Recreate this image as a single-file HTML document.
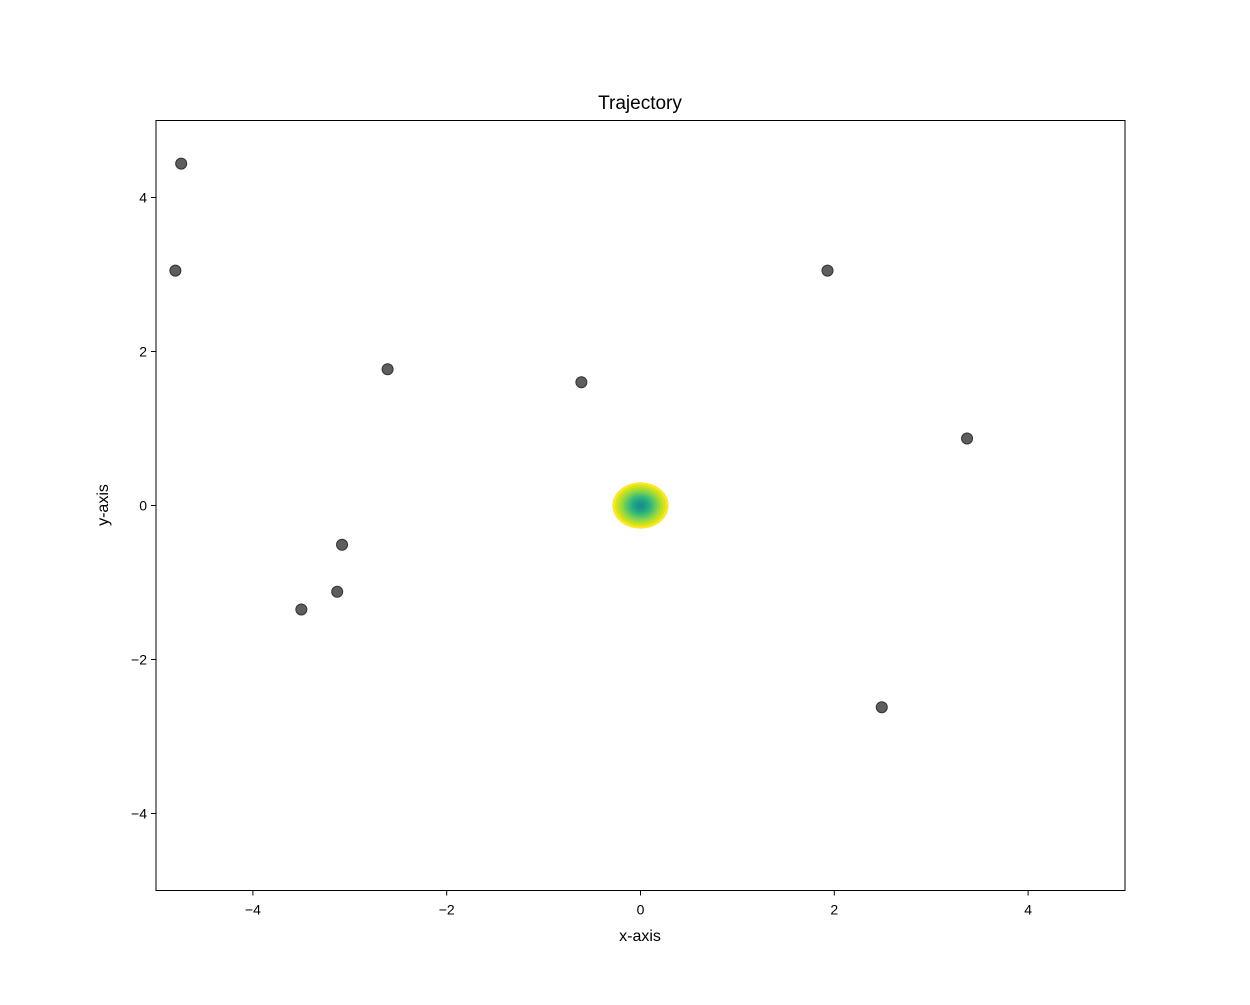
<!DOCTYPE html>
<html><head><meta charset="utf-8"><style>
body{margin:0;background:#fff;}
svg text{font-family:"Liberation Sans","DejaVu Sans",sans-serif;}
</style></head><body>
<svg id="c" width="1250" height="1000">
<text x="640" y="109" text-anchor="middle" font-size="19">Trajectory</text>
<g id="blob"></g>
<g id="pts"></g>
<rect x="156" y="120.5" width="969" height="770" fill="none" stroke="#000" stroke-width="1"/>
<g id="ax"></g>
<text x="640" y="941" text-anchor="middle" font-size="16">x-axis</text>
<text x="108" y="505" text-anchor="middle" font-size="16" transform="rotate(-90 108 505)">y-axis</text>
</svg>
<script>
const xs=[-4.74,-4.80,-2.61,-0.61,1.93,3.37,-3.08,-3.13,-3.50,2.49];
const ys=[4.44,3.05,1.77,1.60,3.05,0.87,-0.51,-1.12,-1.35,-2.62];
const xTicks=[-4,-2,0,2,4];
const yTicks=[-4,-2,0,2,4];
const xTickLabels=["−4","−2","0","2","4"];
const yTickLabels=["−4","−2","0","2","4"];
const blobColors=["#fde725","#d8e219","#b5de2b","#8fd744","#6ccd5a","#4ac16d","#2fb47c","#21a685","#1f988b","#228a8d"];
const blobRx=0.29, blobRy=0.30;
const X0=156,X1=1125,Y0=120.5,Y1=890.5;
const sx=v=>X0+(v+5)/10*(X1-X0);
const sy=v=>Y1-(v+5)/10*(Y1-Y0);
const NS="http://www.w3.org/2000/svg";
function mk(t,a,p){const e=document.createElementNS(NS,t);for(const k in a)e.setAttribute(k,a[k]);p.appendChild(e);return e;}
const blob=document.getElementById('blob');
blobColors.forEach((c,i)=>{const f=1-i/blobColors.length;
const e=mk('ellipse',{cx:sx(0),cy:sy(0),rx:(blobRx*f)*(X1-X0)/10,ry:(blobRy*f)*(Y1-Y0)/10,fill:c},blob);

});
const pts=document.getElementById('pts');
xs.forEach((x,i)=>{const e=mk('circle',{cx:sx(x),cy:sy(ys[i]),r:5.5,fill:'#555',stroke:'#333','stroke-width':1,'fill-opacity':0.95},pts);

});
const ax=document.getElementById('ax');
xTicks.forEach((v,i)=>{const x=sx(v);
const l=mk('line',{x1:x,x2:x,y1:Y1,y2:Y1+5,stroke:'#000'},ax);


const t=mk('text',{x:x,y:Y1+24,'text-anchor':'middle','font-size':14},ax);t.textContent=xTickLabels[i];

});
yTicks.forEach((v,i)=>{const y=sy(v);
const l=mk('line',{x1:X0-5,x2:X0,y1:y,y2:y,stroke:'#000'},ax);


const t=mk('text',{x:X0-9,y:y+5,'text-anchor':'end','font-size':14},ax);t.textContent=yTickLabels[i];

});
</script>
</body></html>
